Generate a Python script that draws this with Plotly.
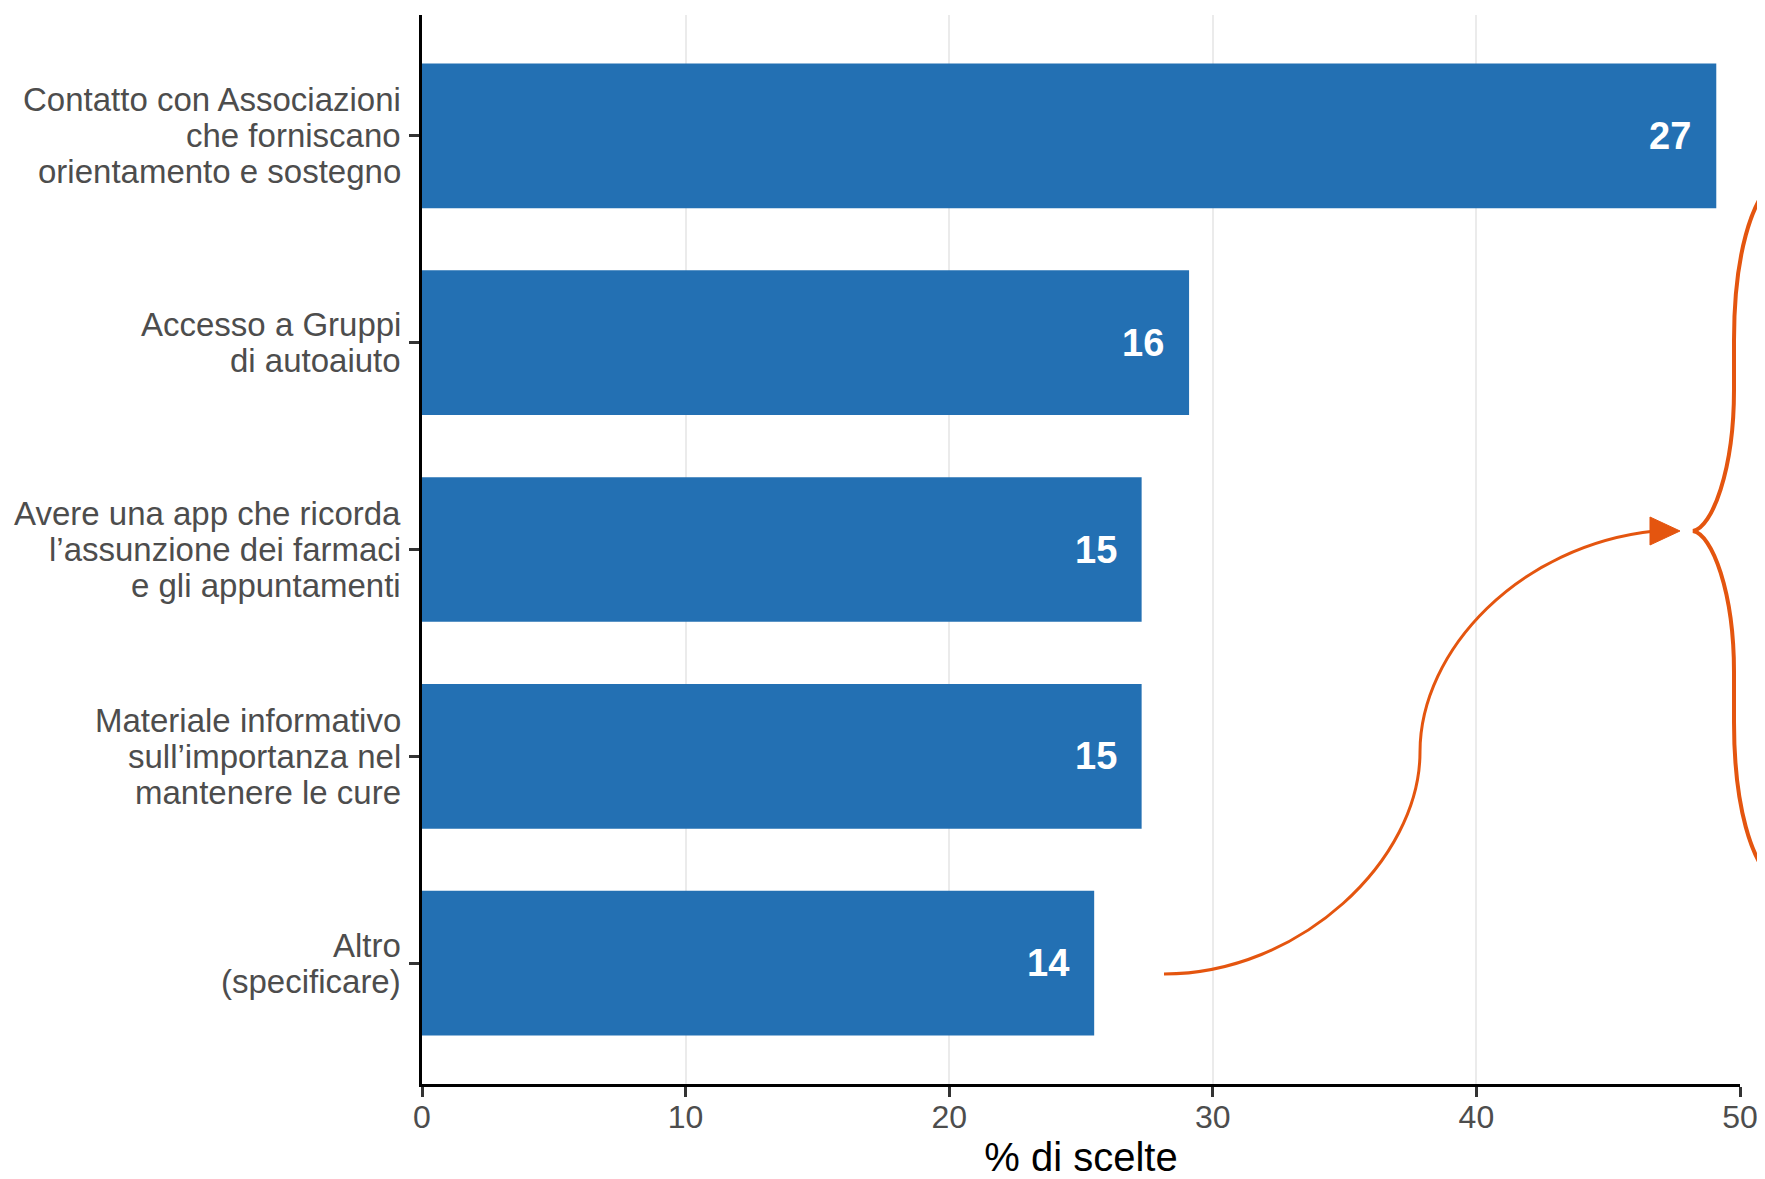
import plotly.graph_objects as go

# ---------------- data ----------------
categories = [
    "Contatto con Associazioni\nche forniscano\norientamento e sostegno",
    "Accesso a Gruppi\ndi autoaiuto",
    "Avere una app che ricorda\nl’assunzione dei farmaci\ne gli appuntamenti",
    "Materiale informativo\nsull’importanza nel\nmantenere le cure",
    "Altro\n(specificare)",
]
counts = [27, 16, 15, 15, 14]
percent = [49.1, 29.1, 27.3, 27.3, 25.5]
x_ticks = [0, 10, 20, 30, 40, 50]
x_title = "% di scelte"

# ---------------- style ----------------
OFF = 8                      # default page margin of the html body
W, H = 1765 - OFF, 1179 - OFF
PLOT_L, PLOT_R, PLOT_T, PLOT_B = 422, 1740, 15, 1084   # page pixels
ML = PLOT_L - OFF
MR = W - (PLOT_R - OFF)
MT = PLOT_T - OFF
MB = H - (PLOT_B - OFF)
BAR_COLOR = "#2370B3"
ORANGE = "#E4550F"
FONT = "Liberation Sans, Arial, Helvetica, sans-serif"
LABEL_GREY = "#4D4D4D"

fig = go.Figure()
fig.add_trace(go.Bar(
    x=percent,
    y=categories,
    orientation="h",
    marker=dict(color=BAR_COLOR, line=dict(width=0)),
    width=0.7,
    hoverinfo="skip",
))

# value labels inside bar ends
for c, p, n in zip(categories, percent, counts):
    fig.add_annotation(
        x=p, y=c, xref="x", yref="y", text=f"<b>{n}</b>",
        showarrow=False, xanchor="right", yanchor="middle", xshift=-23,
        font=dict(family=FONT, size=38, color="white"),
    )

# category labels (one annotation per line for tight ggplot-like line spacing)
LINE_H = 36
for c in categories:
    lines = c.split("\n")
    n = len(lines)
    for j, ln in enumerate(lines):
        fig.add_annotation(
            x=0, y=c, xref="paper", yref="y", text=ln,
            showarrow=False, xanchor="right", yanchor="middle",
            xshift=-19, yshift=((n - 1) / 2 - j) * LINE_H,
            font=dict(family=FONT, size=33, color=LABEL_GREY),
        )

# ---------------- decorative orange brace + curved arrow ----------------
PW = PLOT_R - PLOT_L
PH = PLOT_B - PLOT_T


def P(px, py):
    return f"{(px - PLOT_L) / PW:.5f},{(PLOT_B - py) / PH:.5f}"


arrow_path = (
    f"M {P(1164, 974)} C {P(1300, 974)} {P(1420, 860)} {P(1420, 752)} "
    f"C {P(1420, 650)} {P(1520, 545)} {P(1655, 531)}"
)
head_path = f"M {P(1680, 531)} L {P(1650, 517)} L {P(1650, 545)} Z"
brace_path = (
    f"M {P(1780, 176)} C {P(1750, 195)} {P(1734, 260)} {P(1734, 340)} "
    f"L {P(1734, 390)} C {P(1734, 470)} {P(1712, 528)} {P(1693, 531)} "
    f"C {P(1712, 534)} {P(1734, 592)} {P(1734, 672)} "
    f"L {P(1734, 722)} C {P(1734, 802)} {P(1750, 867)} {P(1780, 886)}"
)
fig.add_shape(type="path", path=arrow_path, xref="paper", yref="paper",
              line=dict(color=ORANGE, width=3), layer="above")
fig.add_shape(type="path", path=head_path, xref="paper", yref="paper",
              line=dict(color=ORANGE, width=1), fillcolor=ORANGE, layer="above")
fig.add_shape(type="path", path=brace_path, xref="paper", yref="paper",
              line=dict(color=ORANGE, width=4), layer="above")

fig.update_layout(
    width=W, height=H,
    margin=dict(l=ML, r=MR, t=MT, b=MB, autoexpand=False),
    plot_bgcolor="white", paper_bgcolor="white",
    showlegend=False,
    font=dict(family=FONT, color=LABEL_GREY),
)
fig.update_xaxes(
    range=[0, 50], tickvals=x_ticks, ticktext=[str(t) for t in x_ticks],
    showgrid=True, gridcolor="#EBEBEB", gridwidth=2,
    zeroline=False, showline=True, linecolor="black", linewidth=3,
    ticks="outside", ticklen=10, tickwidth=2.5, tickcolor="#333333",
    ticklabelstandoff=-7,
    tickfont=dict(family=FONT, size=32, color=LABEL_GREY),
    title=dict(text=x_title, font=dict(family=FONT, size=40, color="black"), standoff=9),
    automargin=False,
)
fig.update_yaxes(
    type="category", categoryorder="array", categoryarray=list(reversed(categories)),
    range=[-0.585, 4.585],
    showgrid=False, zeroline=False, showline=True, linecolor="black", linewidth=3,
    ticks="outside", ticklen=10, tickwidth=2.5, tickcolor="#333333",
    showticklabels=False, automargin=False,
)

fig.write_html("out.html")
